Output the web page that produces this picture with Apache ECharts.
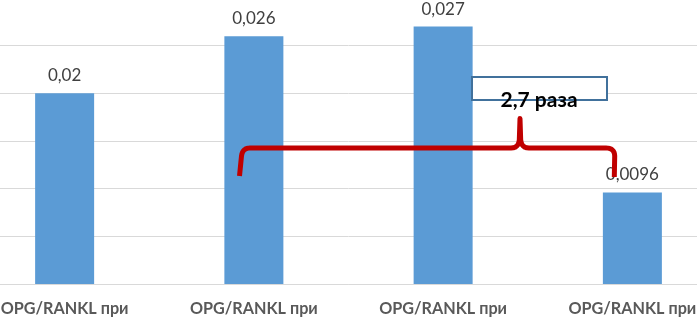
<!DOCTYPE html>
<html>
<head>
<meta charset="utf-8">
<script src="https://cdn.jsdelivr.net/npm/echarts@6/dist/echarts.min.js"></script>
<style>
html,body{margin:0;padding:0;background:#fff;}
#c{width:697px;height:318px;}
</style>
</head>
<body>
<div id="c"></div>
<script>
const categories = ['OPG/RANKL при', 'OPG/RANKL при', 'OPG/RANKL при', 'OPG/RANKL при'];
const values = [0.02, 0.026, 0.027, 0.0096];
const annotationText = '2,7 раза';

function quad(p0, c, p1, n) {
  const pts = [];
  for (let i = 1; i <= n; i++) {
    const t = i / n;
    pts.push([
      (1-t)*(1-t)*p0[0] + 2*(1-t)*t*c[0] + t*t*p1[0],
      (1-t)*(1-t)*p0[1] + 2*(1-t)*t*c[1] + t*t*p1[1]
    ]);
  }
  return pts;
}
function bracePoints() {
  let pts = [[239.5, 176], [241.5, 156]];
  pts = pts.concat(quad([241.5,156],[242.5,148],[250,148],8));
  pts.push([511,148]);
  pts = pts.concat(quad([511,148],[518.5,148],[519.3,140],6));
  pts.push([520,118.5]);
  pts.push([520.7,140]);
  pts = pts.concat(quad([520.7,140],[521.5,148],[529,148],6));
  pts.push([606,148]);
  pts = pts.concat(quad([606,148],[614.5,148],[614.7,156],8));
  pts.push([614.3,177]);
  return pts;
}

const chart = echarts.init(document.getElementById('c'), null, {renderer: 'canvas'});
const option = {
  animation: false,
  grid: {left: -30, right: -30, top: -2, bottom: 34, containLabel: false, outerBoundsMode: 'none'},
  xAxis: {
    type: 'category',
    data: categories,
    axisLine: {show: true, lineStyle: {color: '#D9D9D9', width: 1}},
    axisTick: {show: false},
    axisLabel: {
      interval: 0,
      color: '#595959',
      fontFamily: 'Lato',
      fontWeight: 'bold',
      fontSize: 16.2,
      margin: 17,
      hideOverlap: false
    }
  },
  yAxis: {
    type: 'value',
    min: 0, max: 0.03, interval: 0.005,
    axisLabel: {show: false},
    axisLine: {show: false},
    axisTick: {show: false},
    splitLine: {lineStyle: {color: '#D9D9D9', width: 1}}
  },
  series: [{
    type: 'bar',
    data: values,
    barWidth: 59,
    itemStyle: {color: '#5B9BD5'},
    label: {
      show: true,
      position: 'top',
      distance: 9,
      color: '#404040',
      fontFamily: 'Lato',
      fontSize: 17,
      formatter: p => String(p.value).replace('.', ',')
    },
    z: 2
  }],
  graphic: [
    {
      type: 'rect',
      shape: {x: 472, y: 77, width: 135, height: 23},
      style: {fill: '#ffffff', stroke: '#41719C', lineWidth: 2},
      z: 10
    },
    {
      type: 'polyline',
      shape: {points: bracePoints()},
      style: {fill: 'none', stroke: '#C00000', lineWidth: 5, lineJoin: 'round'},
      z: 11
    },
    {
      type: 'text',
      x: 539, y: 111,
      style: {
        text: annotationText,
        fill: '#000000',
        fontFamily: 'Lato',
        fontWeight: 'bold',
        fontSize: 21,
        align: 'center',
        verticalAlign: 'bottom'
      },
      z: 12
    }
  ]
};
chart.setOption(option);
</script>
</body>
</html>
